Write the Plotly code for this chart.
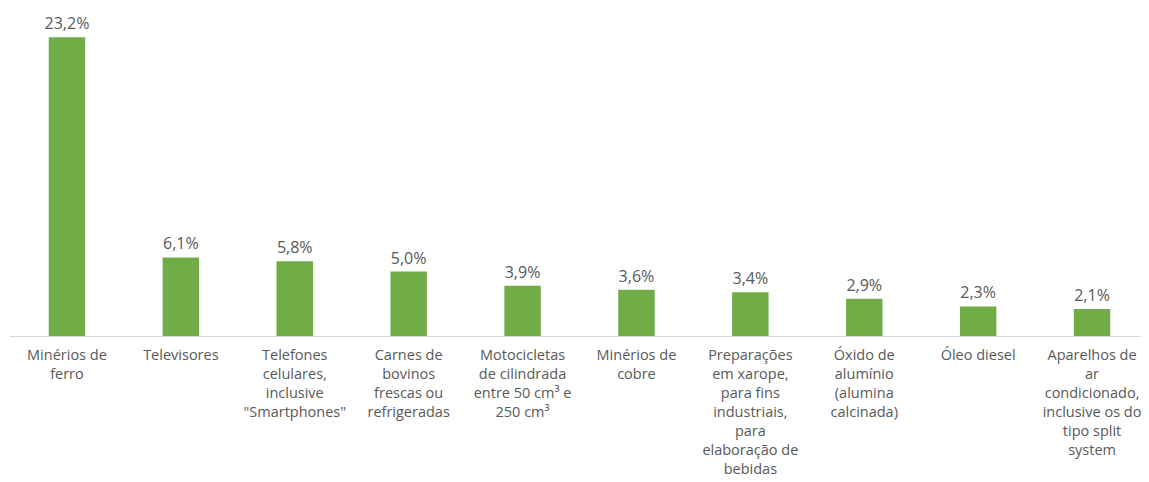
import plotly.graph_objects as go

categories = [
    "Minérios de<br>ferro",
    "Televisores",
    "Telefones<br>celulares,<br>inclusive<br>\"Smartphones\"",
    "Carnes de<br>bovinos<br>frescas ou<br>refrigeradas",
    "Motocicletas<br>de cilindrada<br>entre 50 cm³ e<br>250 cm³",
    "Minérios de<br>cobre",
    "Preparações<br>em xarope,<br>para fins<br>industriais,<br>para<br>elaboração de<br>bebidas",
    "Óxido de<br>alumínio<br>(alumina<br>calcinada)",
    "Óleo diesel",
    "Aparelhos de<br>ar<br>condicionado,<br>inclusive os do<br>tipo split<br>system",
]
values = [23.2, 6.1, 5.8, 5.0, 3.9, 3.6, 3.4, 2.9, 2.3, 2.1]

FONT = "Open Sans"

fig = go.Figure(
    go.Bar(
        x=categories,
        y=values,
        marker=dict(color="#70AD47", line=dict(width=0)),
        texttemplate="%{y:.1f}%",
        textposition="outside",
        constraintext="none",
        textfont=dict(size=16, color="#595959", family=FONT),
        cliponaxis=False,
    )
)

# page body has an 8px default margin; compensate so the plot lands where the reference has it
fig.update_layout(
    width=1141,
    height=474,
    margin=dict(l=2, r=0, t=6, b=146),
    plot_bgcolor="white",
    paper_bgcolor="white",
    separators=",.",
    bargap=0.68,
    showlegend=False,
    font=dict(family=FONT, size=14.5, color="#595959"),
)
fig.update_xaxes(
    automargin=False,
    showline=True,
    linecolor="#D9D9D9",
    linewidth=1,
    showgrid=False,
    tickangle=0,
    ticks="",
    ticklabelstandoff=6,
    tickfont=dict(size=14.5, color="#595959", family=FONT),
)
fig.update_yaxes(
    automargin=False,
    range=[0, 25],
    visible=False,
    showgrid=False,
)

fig.write_html("out.html")
